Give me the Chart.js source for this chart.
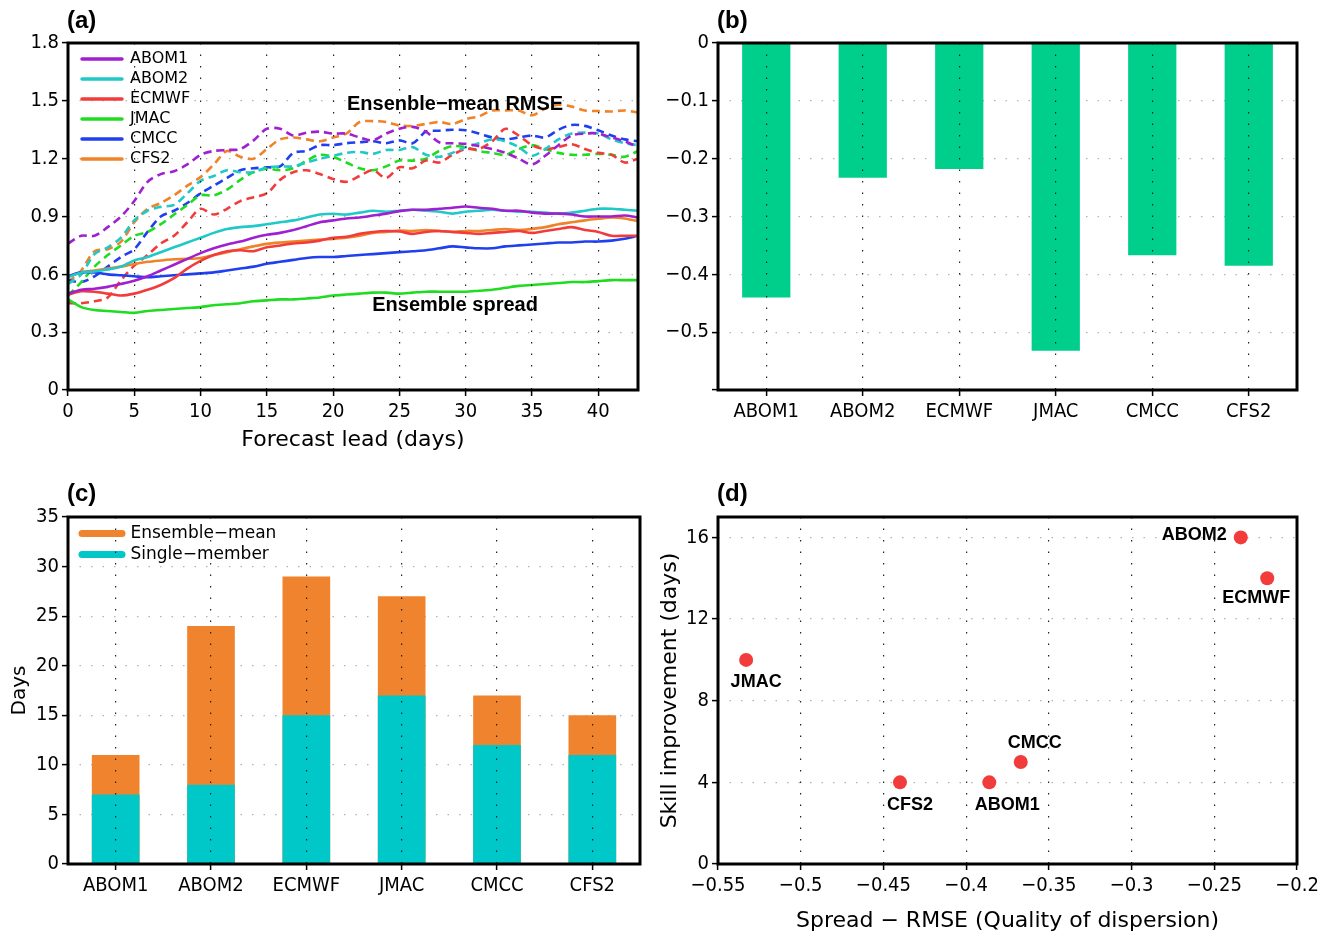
<!DOCTYPE html>
<html>
<head>
<meta charset="utf-8">
<script src="https://cdn.jsdelivr.net/npm/chart.js@4.4.1/dist/chart.umd.min.js"></script>
<style>
  body { margin: 0; background: #fff; }
  #page { position: relative; width: 1325px; height: 936px; }
  canvas { position: absolute; }
  .tag { position: absolute; font: bold 24px 'Liberation Sans', Arial, sans-serif; line-height: 26px; }
</style>
</head>
<body>
<div id="page">
  <canvas id="chartA" width="660" height="460" style="left:0;top:0"></canvas>
  <canvas id="chartB" width="665" height="460" style="left:660px;top:0"></canvas>
  <canvas id="chartC" width="660" height="466" style="left:0;top:470px"></canvas>
  <canvas id="chartD" width="665" height="466" style="left:660px;top:470px"></canvas>
  <div class="tag" style="left:67px;top:7px">(a)</div>
  <div class="tag" style="left:717px;top:7px">(b)</div>
  <div class="tag" style="left:67px;top:480px">(c)</div>
  <div class="tag" style="left:717px;top:480px">(d)</div>
</div>
<script>
'use strict';

// ---- data ----
const models = ['ABOM1', 'ABOM2', 'ECMWF', 'JMAC', 'CMCC', 'CFS2'];
const modelColors = ['#A020D0', '#20C8C8', '#F23C3C', '#20DC20', '#2040F0', '#F08228'];

const leadDays = [0, 1, 2, 3, 4, 5, 6, 7, 8, 9, 10, 11, 12, 13, 14, 15, 16, 17, 18, 19, 20, 21,
  22, 23, 24, 25, 26, 27, 28, 29, 30, 31, 32, 33, 34, 35, 36, 37, 38, 39, 40, 41, 42, 43];

// ensemble spread (solid)
const spreadABOM1 = [0.50, 0.52, 0.525, 0.535, 0.55, 0.567, 0.59, 0.62, 0.65, 0.68, 0.71, 0.735, 0.755, 0.77, 0.79, 0.805, 0.815, 0.83, 0.85, 0.87, 0.88, 0.89,
  0.895, 0.905, 0.915, 0.928, 0.935, 0.935, 0.94, 0.945, 0.952, 0.945, 0.94, 0.93, 0.93, 0.92, 0.915, 0.915, 0.91, 0.90, 0.90, 0.90, 0.905, 0.895];
const spreadABOM2 = [0.585, 0.61, 0.615, 0.625, 0.64, 0.672, 0.69, 0.715, 0.74, 0.765, 0.79, 0.815, 0.835, 0.845, 0.85, 0.86, 0.87, 0.88, 0.895, 0.91, 0.914, 0.91,
  0.92, 0.93, 0.925, 0.93, 0.935, 0.93, 0.925, 0.915, 0.925, 0.93, 0.935, 0.93, 0.925, 0.925, 0.92, 0.915, 0.92, 0.93, 0.94, 0.94, 0.935, 0.93];
const spreadECMWF = [0.495, 0.512, 0.51, 0.50, 0.49, 0.50, 0.52, 0.545, 0.58, 0.63, 0.67, 0.70, 0.72, 0.725, 0.72, 0.74, 0.75, 0.76, 0.765, 0.775, 0.79, 0.795,
  0.81, 0.82, 0.825, 0.822, 0.81, 0.82, 0.825, 0.82, 0.815, 0.81, 0.815, 0.82, 0.825, 0.815, 0.825, 0.835, 0.845, 0.83, 0.82, 0.80, 0.80, 0.80];
const spreadJMAC = [0.47, 0.43, 0.415, 0.41, 0.405, 0.40, 0.41, 0.415, 0.42, 0.425, 0.43, 0.44, 0.445, 0.45, 0.46, 0.465, 0.47, 0.47, 0.475, 0.48, 0.49, 0.495,
  0.50, 0.505, 0.505, 0.50, 0.505, 0.51, 0.51, 0.51, 0.51, 0.515, 0.52, 0.53, 0.54, 0.545, 0.55, 0.555, 0.56, 0.56, 0.565, 0.57, 0.57, 0.57];
const spreadCMCC = [0.59, 0.61, 0.61, 0.60, 0.595, 0.59, 0.585, 0.59, 0.595, 0.60, 0.605, 0.61, 0.62, 0.63, 0.64, 0.655, 0.665, 0.675, 0.685, 0.69, 0.69, 0.695,
  0.70, 0.705, 0.71, 0.715, 0.72, 0.725, 0.735, 0.745, 0.74, 0.735, 0.735, 0.745, 0.75, 0.755, 0.76, 0.765, 0.765, 0.77, 0.77, 0.775, 0.785, 0.80];
const spreadCFS2 = [0.59, 0.61, 0.62, 0.63, 0.64, 0.654, 0.665, 0.672, 0.678, 0.68, 0.685, 0.70, 0.715, 0.73, 0.745, 0.758, 0.765, 0.77, 0.775, 0.78, 0.784, 0.79,
  0.80, 0.815, 0.82, 0.827, 0.825, 0.83, 0.825, 0.82, 0.825, 0.825, 0.83, 0.835, 0.83, 0.836, 0.845, 0.86, 0.87, 0.88, 0.888, 0.895, 0.89, 0.876];

// ensemble-mean RMSE (dashed)
const rmseABOM1 = [0.76, 0.80, 0.80, 0.845, 0.90, 0.98, 1.08, 1.12, 1.135, 1.17, 1.22, 1.24, 1.245, 1.25, 1.295, 1.355, 1.355, 1.32, 1.335, 1.34, 1.33, 1.33,
  1.31, 1.295, 1.33, 1.355, 1.365, 1.34, 1.285, 1.28, 1.277, 1.265, 1.25, 1.23, 1.20, 1.17, 1.215, 1.27, 1.32, 1.33, 1.33, 1.31, 1.29, 1.26];
const rmseABOM2 = [0.55, 0.60, 0.705, 0.74, 0.79, 0.88, 0.93, 0.95, 0.96, 1.02, 1.085, 1.11, 1.14, 1.13, 1.13, 1.155, 1.16, 1.16, 1.18, 1.20, 1.215, 1.23,
  1.235, 1.225, 1.245, 1.245, 1.26, 1.22, 1.21, 1.23, 1.26, 1.28, 1.30, 1.29, 1.26, 1.215, 1.25, 1.30, 1.33, 1.335, 1.33, 1.30, 1.28, 1.27];
const rmseECMWF = [0.45, 0.45, 0.46, 0.48, 0.57, 0.645, 0.70, 0.76, 0.80, 0.87, 0.94, 0.91, 0.94, 0.98, 1.00, 1.02, 1.09, 1.13, 1.14, 1.12, 1.095, 1.08,
  1.11, 1.14, 1.10, 1.155, 1.15, 1.19, 1.18, 1.22, 1.25, 1.25, 1.29, 1.355, 1.32, 1.27, 1.25, 1.26, 1.275, 1.25, 1.23, 1.22, 1.18, 1.20];
const rmseJMAC = [0.49, 0.56, 0.64, 0.70, 0.75, 0.80, 0.82, 0.86, 0.91, 0.96, 1.01, 1.01, 1.04, 1.09, 1.13, 1.148, 1.14, 1.15, 1.19, 1.22, 1.21, 1.18,
  1.15, 1.14, 1.16, 1.19, 1.19, 1.20, 1.24, 1.265, 1.26, 1.24, 1.23, 1.22, 1.25, 1.27, 1.25, 1.23, 1.22, 1.22, 1.225, 1.22, 1.21, 1.24];
const rmseCMCC = [0.57, 0.56, 0.59, 0.64, 0.69, 0.73, 0.82, 0.90, 0.93, 0.97, 1.02, 1.06, 1.10, 1.14, 1.15, 1.155, 1.16, 1.23, 1.24, 1.27, 1.27, 1.28,
  1.285, 1.29, 1.28, 1.295, 1.28, 1.34, 1.345, 1.35, 1.347, 1.33, 1.31, 1.30, 1.31, 1.32, 1.31, 1.35, 1.375, 1.37, 1.347, 1.32, 1.30, 1.29];
const rmseCFS2 = [0.56, 0.62, 0.72, 0.73, 0.77, 0.87, 0.94, 0.97, 1.01, 1.06, 1.105, 1.17, 1.24, 1.21, 1.20, 1.25, 1.30, 1.31, 1.30, 1.29, 1.31, 1.33,
  1.39, 1.395, 1.39, 1.372, 1.37, 1.38, 1.39, 1.38, 1.405, 1.42, 1.45, 1.45, 1.45, 1.425, 1.46, 1.48, 1.47, 1.45, 1.447, 1.445, 1.45, 1.44];

const spreadSeries = [spreadABOM1, spreadABOM2, spreadECMWF, spreadJMAC, spreadCMCC, spreadCFS2];
const rmseSeries = [rmseABOM1, rmseABOM2, rmseECMWF, rmseJMAC, rmseCMCC, rmseCFS2];

// (b) spread - RMSE
const dispersion = [-0.44, -0.233, -0.218, -0.532, -0.367, -0.385];

// (c) skill in days
const ensembleMeanDays = [11, 24, 29, 27, 17, 15];
const singleMemberDays = [7, 8, 15, 17, 12, 11];

// (d) scatter
const scatterNames = ['JMAC', 'CFS2', 'ABOM1', 'CMCC', 'ABOM2', 'ECMWF'];
const scatterX = [-0.533, -0.44, -0.386, -0.367, -0.234, -0.218];
const scatterY = [10, 4, 4, 5, 16, 14];

// ---- shared style ----
const TICK_FAMILY = "'Liberation Sans Narrow', 'DejaVu Sans Condensed', 'Arial Narrow', sans-serif";
const TEXT_FAMILY = "'DejaVu Sans', sans-serif";
const tickFont = { family: TICK_FAMILY, size: 20 };
const titleFont = { family: TEXT_FAMILY, size: 22 };

Chart.defaults.color = '#000';
Chart.defaults.font.family = TEXT_FAMILY;

const fmt = v => String(+Number(v).toFixed(2)).replace('-', '\u2212');

function gridX() {
  return { z: 1, color: '#222', lineWidth: 1.2, offset: false, tickColor: '#000', tickLength: 6, tickWidth: 1.5, tickBorderDash: [] };
}
function gridY() {
  return { color: '#b4b4b4', lineWidth: 1.2, tickColor: '#000', tickLength: 6, tickWidth: 1.5, tickBorderDash: [] };
}
const dotted = { display: false, dash: [1.5, 10] };

const frame = {
  id: 'frame',
  afterDraw(chart) {
    const { ctx, chartArea: a } = chart;
    ctx.save();
    ctx.lineWidth = 3;
    ctx.strokeStyle = '#000';
    ctx.strokeRect(a.left, a.top, a.right - a.left, a.bottom - a.top);
    ctx.restore();
  }
};

// put the in-plot legend inside the frame, a little off the corner
const legendNudge = {
  id: 'legendNudge',
  afterLayout(chart) {
    const L = chart.legend;
    if (!L) return;
    const h = L.bottom - L.top;
    L.top = chart.chartArea.top + 4;
    L.bottom = L.top + h;
    L.left = chart.chartArea.left + 10;
  }
};

function legendLabels(width) {
  return chart => Chart.defaults.plugins.legend.labels.generateLabels(chart).map(it => ({
    ...it, lineWidth: width, strokeStyle: it.fillStyle, lineCap: 'round', lineDash: []
  }));
}

const common = {
  responsive: false,
  animation: false,
  devicePixelRatio: 1,
  events: []
};

// ---- (a) spread and RMSE vs lead ----
const lineSets = [];
models.forEach((m, i) => {
  lineSets.push({
    label: m, kind: 'spread',
    data: leadDays.map((d, k) => ({ x: d, y: spreadSeries[i][k] })),
    borderColor: modelColors[i], backgroundColor: modelColors[i],
    borderWidth: 2.6, pointRadius: 0, tension: 0.3
  });
});
models.forEach((m, i) => {
  lineSets.push({
    label: m + ' RMSE', kind: 'rmse',
    data: leadDays.map((d, k) => ({ x: d, y: rmseSeries[i][k] })),
    borderColor: modelColors[i], backgroundColor: modelColors[i],
    borderWidth: 2.6, borderDash: [8, 5], pointRadius: 0, tension: 0.3
  });
});

const notesA = {
  id: 'notesA',
  afterDatasetsDraw(chart) {
    const { ctx, scales: { x, y } } = chart;
    ctx.save();
    ctx.font = "bold 20px 'Liberation Sans', Arial, sans-serif";
    ctx.fillStyle = '#000';
    ctx.textAlign = 'center';
    ctx.textBaseline = 'middle';
    ctx.fillText('Ensenble\u2212mean RMSE', x.getPixelForValue(29.2), y.getPixelForValue(1.48));
    ctx.fillText('Ensemble spread', x.getPixelForValue(29.2), y.getPixelForValue(0.44));
    ctx.restore();
  }
};

new Chart(document.getElementById('chartA'), {
  type: 'line',
  data: { datasets: lineSets },
  options: {
    ...common,
    layout: { padding: { top: 43, right: 22, left: 0, bottom: 0 } },
    plugins: {
      tooltip: { enabled: false },
      legend: {
        position: 'chartArea', align: 'start',
        labels: {
          filter: (item, data) => data.datasets[item.datasetIndex].kind === 'spread',
          generateLabels: legendLabels(3.5),
          usePointStyle: true, pointStyle: 'line', pointStyleWidth: 40,
          padding: 4, color: '#000', font: { family: TEXT_FAMILY, size: 16 }
        }
      }
    },
    scales: {
      x: {
        type: 'linear', min: 0, max: 43,
        ticks: { stepSize: 5, includeBounds: false, font: tickFont, padding: 4, maxRotation: 0 },
        grid: gridX(), border: dotted,
        title: { display: true, text: 'Forecast lead (days)', font: titleFont, padding: { top: 0, bottom: 6.8 } },
        afterFit: s => { s.height = 70; }
      },
      y: {
        min: 0, max: 1.8,
        ticks: { stepSize: 0.3, font: tickFont, padding: 3, callback: v => fmt(v) },
        grid: gridY(), border: dotted,
        afterFit: s => { s.width = 68; }
      }
    }
  },
  plugins: [frame, legendNudge, notesA]
});

// ---- (b) spread - RMSE bars ----
new Chart(document.getElementById('chartB'), {
  type: 'bar',
  data: {
    labels: models,
    datasets: [{ label: 'Spread \u2212 RMSE', data: dispersion, backgroundColor: '#00CF8C', barPercentage: 0.5, categoryPercentage: 1 }]
  },
  options: {
    ...common,
    layout: { padding: { top: 43, right: 28, left: 0, bottom: 0 } },
    plugins: { legend: { display: false }, tooltip: { enabled: false } },
    scales: {
      x: {
        ticks: { font: tickFont, padding: 4, maxRotation: 0 },
        grid: gridX(), border: dotted,
        afterFit: s => { s.height = 70; }
      },
      y: {
        min: -0.6, max: 0,
        ticks: { stepSize: 0.1, font: tickFont, padding: 3, callback: v => (v < -0.55 ? '' : fmt(v)) },
        grid: gridY(), border: dotted,
        afterFit: s => { s.width = 58; }
      }
    }
  },
  plugins: [frame]
});

// ---- (c) skill days, stacked look ----
new Chart(document.getElementById('chartC'), {
  type: 'bar',
  data: {
    labels: models,
    datasets: [
      { label: 'Single\u2212member', data: singleMemberDays, backgroundColor: '#00C8C8', grouped: false, order: 0, barPercentage: 0.5, categoryPercentage: 1 },
      { label: 'Ensemble\u2212mean', data: ensembleMeanDays, backgroundColor: '#F0842E', grouped: false, order: 1, barPercentage: 0.5, categoryPercentage: 1 }
    ]
  },
  options: {
    ...common,
    layout: { padding: { top: 47, right: 20, left: 0, bottom: 0 } },
    plugins: {
      tooltip: { enabled: false },
      legend: {
        position: 'chartArea', align: 'start',
        labels: {
          sort: (a, b) => b.datasetIndex - a.datasetIndex,
          generateLabels: legendLabels(7),
          usePointStyle: true, pointStyle: 'line', pointStyleWidth: 40,
          padding: 4, color: '#000', font: { family: TEXT_FAMILY, size: 17 }
        }
      }
    },
    scales: {
      x: {
        ticks: { font: tickFont, padding: 4, maxRotation: 0 },
        grid: gridX(), border: dotted,
        afterFit: s => { s.height = 72; }
      },
      y: {
        min: 0, max: 35,
        ticks: { stepSize: 5, font: tickFont, padding: 3 },
        grid: gridY(), border: dotted,
        title: { display: true, text: 'Days', font: { family: TEXT_FAMILY, size: 20 }, padding: { top: 8, bottom: 0 } },
        afterFit: s => { s.width = 68; }
      }
    }
  },
  plugins: [frame, legendNudge]
});

// ---- (d) scatter ----
const labelOffsets = {
  JMAC: [10, 22, 'center'], CFS2: [10, 23, 'center'], ABOM1: [18, 23, 'center'],
  CMCC: [14, -19, 'center'], ABOM2: [-14, -2, 'right'], ECMWF: [-11, 20, 'center']
};
const pointNames = {
  id: 'pointNames',
  afterDatasetsDraw(chart) {
    const { ctx } = chart;
    const meta = chart.getDatasetMeta(0);
    ctx.save();
    ctx.font = "bold 18px 'Liberation Sans', Arial, sans-serif";
    ctx.fillStyle = '#000';
    ctx.textBaseline = 'middle';
    meta.data.forEach((pt, i) => {
      const [dx, dy, align] = labelOffsets[scatterNames[i]];
      ctx.textAlign = align;
      ctx.fillText(scatterNames[i], pt.x + dx, pt.y + dy);
    });
    ctx.restore();
  }
};

new Chart(document.getElementById('chartD'), {
  type: 'scatter',
  data: {
    datasets: [{
      label: 'Models',
      data: scatterX.map((x, i) => ({ x: x, y: scatterY[i] })),
      backgroundColor: '#F23C3C', borderWidth: 0, pointRadius: 7
    }]
  },
  options: {
    ...common,
    layout: { padding: { top: 47, right: 28, left: 0, bottom: 0 } },
    plugins: { legend: { display: false }, tooltip: { enabled: false } },
    scales: {
      x: {
        type: 'linear', min: -0.55, max: -0.2,
        ticks: { stepSize: 0.05, font: tickFont, padding: 4, maxRotation: 0, callback: v => fmt(v) },
        grid: gridX(), border: dotted,
        title: { display: true, text: 'Spread \u2212 RMSE (Quality of dispersion)', font: titleFont, padding: { top: 0, bottom: 2 } },
        afterFit: s => { s.height = 72; }
      },
      y: {
        min: 0, max: 17,
        ticks: { stepSize: 4, includeBounds: false, font: tickFont, padding: 3 },
        grid: gridY(), border: dotted,
        title: { display: true, text: 'Skill improvement (days)', font: titleFont, padding: { top: -3, bottom: 0 } },
        afterFit: s => { s.width = 58; }
      }
    }
  },
  plugins: [frame, pointNames]
});
</script>
</body>
</html>
